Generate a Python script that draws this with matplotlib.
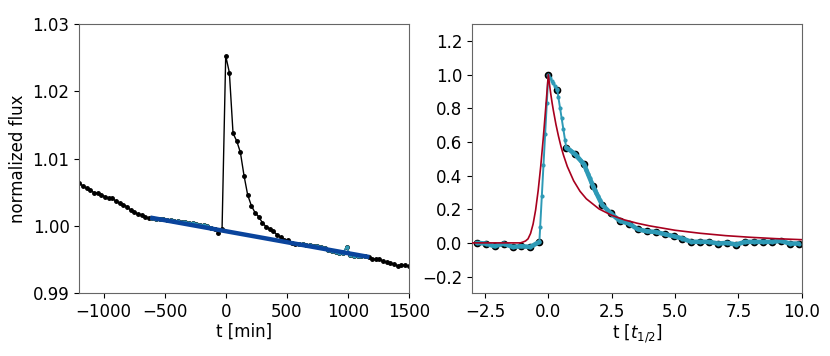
import numpy as np
import matplotlib
matplotlib.use("Agg")
import matplotlib.pyplot as plt

plt.rcParams['font.size'] = 12

# ---- left panel: raw light curve (t in min, 30 min cadence) ----
t_min = np.arange(-1200, 1501, 30)
flux = [1.00636, 1.00596, 1.00561, 1.00532, 1.00497, 1.00487, 1.00462, 1.00438, 1.00418, 1.00418,
        1.00368, 1.00343, 1.00318, 1.00289, 1.00239, 1.00209, 1.00180, 1.00165, 1.00140, 1.00115,
        1.00118, 1.00110, 1.00105, 1.00098, 1.00092, 1.00090, 1.00080, 1.00072, 1.00060, 1.00055,
        1.00046, 1.00040, 1.00030, 1.00022, 1.00010, 0.99998, 0.99978, 0.99960,
        0.99902, 0.99952,
        1.02529, 1.02281, 1.01379, 1.01265, 1.01097, 1.00750, 1.00462, 1.00304, 1.00200, 1.00140,
        1.00051, 0.99991, 0.99962, 0.99922, 0.99872, 0.99833, 0.99793, 0.99788,
        0.99750, 0.99740, 0.99732, 0.99726, 0.99722, 0.99716, 0.99708, 0.99698, 0.99682, 0.99668,
        0.99650, 0.99630, 0.99608, 0.99600, 0.99598, 0.99694, 0.99570, 0.99560, 0.99562, 0.99555,
        0.99550,
        0.99535, 0.99515, 0.99506, 0.99506, 0.99476, 0.99466, 0.99446, 0.99436, 0.99406, 0.99421,
        0.99416, 0.99406]
flux = np.array(flux)

# quiescent windows used for the baseline fit
fit_windows = [(-600, -120), (600, 1140)]
fit_t = [-600, 1160]
fit_f = [1.0012, 0.99545]

# ---- right panel: flare in units of t_1/2 ----
dt_half = 0.3529
k = np.arange(-8, 29)
t_half = k * dt_half
norm = [0.000, -0.004, -0.020, -0.004, -0.024, -0.020, -0.024, 0.006,
        1.000, 0.909, 0.567, 0.528, 0.466, 0.337, 0.228, 0.175, 0.131, 0.115,
        0.081, 0.069, 0.065, 0.052, 0.040, 0.026, 0.006, 0.007, 0.006, -0.004,
        0.000, -0.010, 0.006, 0.006, 0.006, 0.006, 0.012, -0.004, -0.004]

# finer resampled curve (only the extra points on steep parts)
fine_t = [-0.321, -0.256, -0.191, -0.125, -0.060,
          0.070, 0.135, 0.200, 0.265, 0.331,
          0.396, 0.461, 0.526, 0.591, 0.657,
          0.787, 0.852, 0.918, 0.983,
          1.113, 1.178, 1.244, 1.309, 1.374,
          1.439, 1.504, 1.570, 1.635, 1.700,
          1.830, 1.896, 1.961, 2.026, 2.091]
fine_y = [0.095, 0.278, 0.462, 0.647, 0.830,
          0.982, 0.965, 0.948, 0.932, 0.915,
          0.867, 0.804, 0.741, 0.678, 0.614,
          0.558, 0.551, 0.543, 0.536,
          0.518, 0.507, 0.495, 0.484, 0.473,
          0.456, 0.432, 0.408, 0.385, 0.361,
          0.317, 0.297, 0.276, 0.256, 0.236]

# flare template curve
model_t = [-3.0, -1.1, -1.0, -0.9, -0.8, -0.7, -0.6, -0.5, -0.4, -0.3, -0.2, -0.1, 0.0,
           0.05, 0.1, 0.15, 0.2, 0.3, 0.4, 0.5, 0.6, 0.75, 1.0, 1.25, 1.5, 2.0, 2.5, 3.0,
           3.5, 4.0, 5.0, 6.0, 7.0, 8.0, 9.0, 10.0]
model_y = [0.0, 0.0, 0.005, 0.011, 0.024, 0.056, 0.112, 0.196, 0.311, 0.454, 0.621, 0.806, 1.0,
           0.939, 0.882, 0.832, 0.787, 0.705, 0.635, 0.573, 0.521, 0.454, 0.369, 0.307, 0.262,
           0.202, 0.164, 0.137, 0.117, 0.101, 0.075, 0.057, 0.043, 0.033, 0.025, 0.019]

cyan = '#2e9ab6'
red = '#a8001e'
blue = '#0a449c'

fig = plt.figure(figsize=(8.3, 3.56), dpi=100)
ax1 = fig.add_axes([0.0955, 0.176, 0.397, 0.756])
ax2 = fig.add_axes([0.569, 0.176, 0.397, 0.756])

ax1.plot(t_min, flux, color='black', marker='o', ms=2.5, lw=1, zorder=2)
for lo, hi in fit_windows:
    m = (t_min >= lo) & (t_min <= hi)
    ax1.plot(t_min[m], flux[m], color=cyan, marker='.', ms=4, lw=1, zorder=3)
ax1.plot(fit_t, fit_f, color=blue, lw=3.2, zorder=4)
ax1.set_xlim(-1200, 1500)
ax1.set_ylim(0.99, 1.03)
ax1.set_xticks([-1000, -500, 0, 500, 1000, 1500])
ax1.set_yticks([0.99, 1.00, 1.01, 1.02, 1.03])
ax1.set_yticklabels(['0.99', '1.00', '1.01', '1.02', '1.03'])
ax1.set_xlabel('t [min]', labelpad=1)
ax1.set_ylabel('normalized flux')

norm = np.array(norm)
ax2.plot(t_half, norm, 'o', color='black', ms=4.5, zorder=2)
all_t = np.concatenate([t_half, fine_t])
all_y = np.concatenate([norm, fine_y])
order = np.argsort(all_t)
ax2.plot(all_t[order], all_y[order], color=cyan, marker='.', ms=4, lw=1.4, zorder=3)
flat = [(t_half <= -0.3), (t_half >= 0.7)]
for m in flat:
    ax2.plot(t_half[m], norm[m], color=cyan, lw=3.3, zorder=3, solid_capstyle='round')
ax2.plot(model_t, model_y, color=red, lw=1.2, zorder=4)
ax2.set_xlim(-3, 10)
ax2.set_ylim(-0.3, 1.3)
ax2.set_xticks([-2.5, 0.0, 2.5, 5.0, 7.5, 10.0])
ax2.set_yticks([-0.2, 0.0, 0.2, 0.4, 0.6, 0.8, 1.0, 1.2])
ax2.set_xlabel('t [$t_{1/2}$]', labelpad=1)

for ax in (ax1, ax2):
    for s in ax.spines.values():
        s.set_color('#666666')

fig.savefig('out.png', dpi=100)
